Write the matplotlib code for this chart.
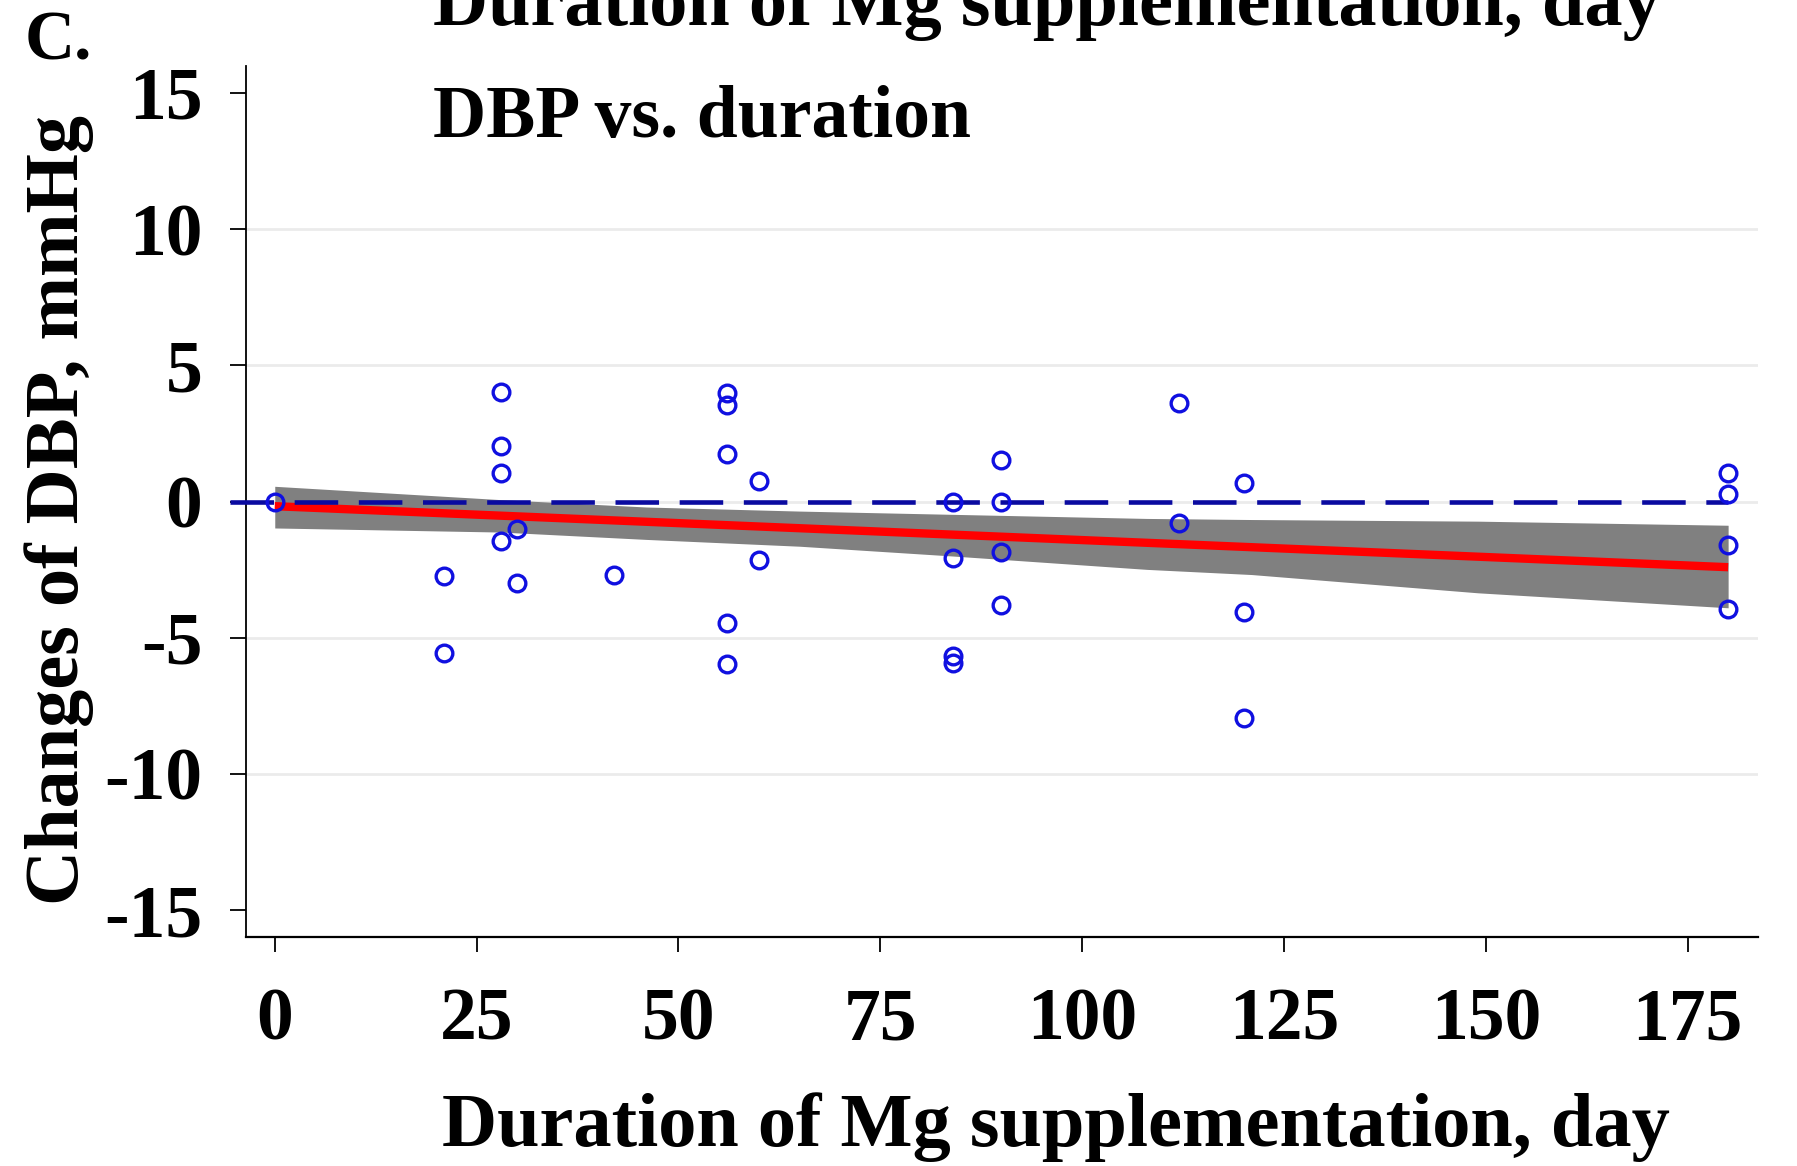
import matplotlib
matplotlib.use("Agg")
import matplotlib.pyplot as plt

# ---- data ----
duration = [0, 21, 21, 28, 28, 28, 28, 30, 30, 42, 56, 56, 56, 56, 56, 60, 60,
            84, 84, 84, 84, 90, 90, 90, 90, 112, 112, 120, 120, 120,
            180, 180, 180, 180]
dbp_change = [0, -2.75, -5.55, 4.02, 2.03, 1.03, -1.45, -0.99, -2.98, -2.70,
              3.99, 3.56, 1.75, -4.45, -5.98, 0.77, -2.13,
              0.0, -2.09, -5.67, -5.92, 1.54, 0.0, -1.85, -3.80,
              3.62, -0.78, 0.68, -4.05, -7.96,
              1.05, 0.29, -1.58, -3.96]

fit_x = [0, 180]
fit_y = [-0.17, -2.41]

band_x = [0, 28, 46, 65, 84, 108, 121, 149, 180]
band_hi = [0.56, 0.07, -0.20, -0.35, -0.47, -0.62, -0.66, -0.72, -0.87]
band_lo = [-0.97, -1.12, -1.39, -1.64, -2.00, -2.49, -2.68, -3.35, -3.90]

ref_x = [-5.5, 180]
ref_y = [0, 0]

grid_vals = [-10, -5, 0, 5, 10]
xticks = [0, 25, 50, 75, 100, 125, 150, 175]
yticks = [-15, -10, -5, 0, 5, 10, 15]

FONT = "Liberation Serif"
plt.rcParams['font.family'] = [FONT, 'DejaVu Serif']
plt.rcParams['font.weight'] = 'bold'

W, H = 1797, 1166
fig = plt.figure(figsize=(W / 100, H / 100), dpi=100)
ax = fig.add_axes([246.5 / W, 1 - 937.4 / H, (1758 - 246.5) / W, (937.4 - 65.7) / H])

ax.set_xlim(-3.5, 183.7)
ax.set_ylim(-16, 16)

for g in grid_vals:
    ax.axhline(g, color='#ebebeb', lw=2.0, zorder=0)

ax.fill_between(band_x, band_lo, band_hi, color='#808080', lw=0, zorder=2)
ax.plot(fit_x, fit_y, color='#ff0000', lw=6.0, solid_capstyle='butt', zorder=3)
ax.plot(ref_x, ref_y, color='#0a0aa0', lw=3.3, dashes=(9.5, 4.5), clip_on=False, zorder=4)
ax.plot(duration, dbp_change, linestyle='none', marker='o', markersize=12,
        markerfacecolor='none', markeredgecolor='#1010e0', markeredgewidth=2.4, zorder=5)

for s in ['top', 'right']:
    ax.spines[s].set_visible(False)
ax.spines['left'].set_linewidth(1.3)
ax.spines['bottom'].set_linewidth(1.6)

ax.set_xticks(xticks)
ax.set_yticks(yticks)
ax.set_xticklabels([str(v) for v in xticks])
ax.set_yticklabels([str(v) for v in yticks])
ax.tick_params(axis='y', direction='out', length=11.3, width=1.3, pad=20.5, labelsize=53)
ax.tick_params(axis='x', direction='out', length=11, width=1.3, pad=25, labelsize=53)
for lab in ax.get_xticklabels() + ax.get_yticklabels():
    lab.set_fontweight('bold')
    lab.set_fontfamily(FONT)

fig.text(1055.5 / W, 20 / H, "Duration of Mg supplementation, day", ha='center', va='baseline',
         fontsize=55, fontweight='bold', fontfamily=FONT)
fig.text(59.6 / W, 0.5626, "Changes of DBP, mmHg", ha='center', va='center', rotation=90,
         fontsize=55, fontweight='bold', fontfamily=FONT)
fig.text(433 / W, 1 - 137.5 / H, "DBP vs. duration", ha='left', va='baseline',
         fontsize=53, fontweight='bold', fontfamily=FONT)
fig.text(433 / W, 1 - 25 / H, "Duration of Mg supplementation, day", ha='left', va='baseline',
         fontsize=55, fontweight='bold', fontfamily=FONT)
fig.text(25 / W, 1 - 59.6 / H, "C.", ha='left', va='baseline',
         fontsize=50, fontweight='bold', fontfamily=FONT)

fig.savefig("out.png", dpi=100)
